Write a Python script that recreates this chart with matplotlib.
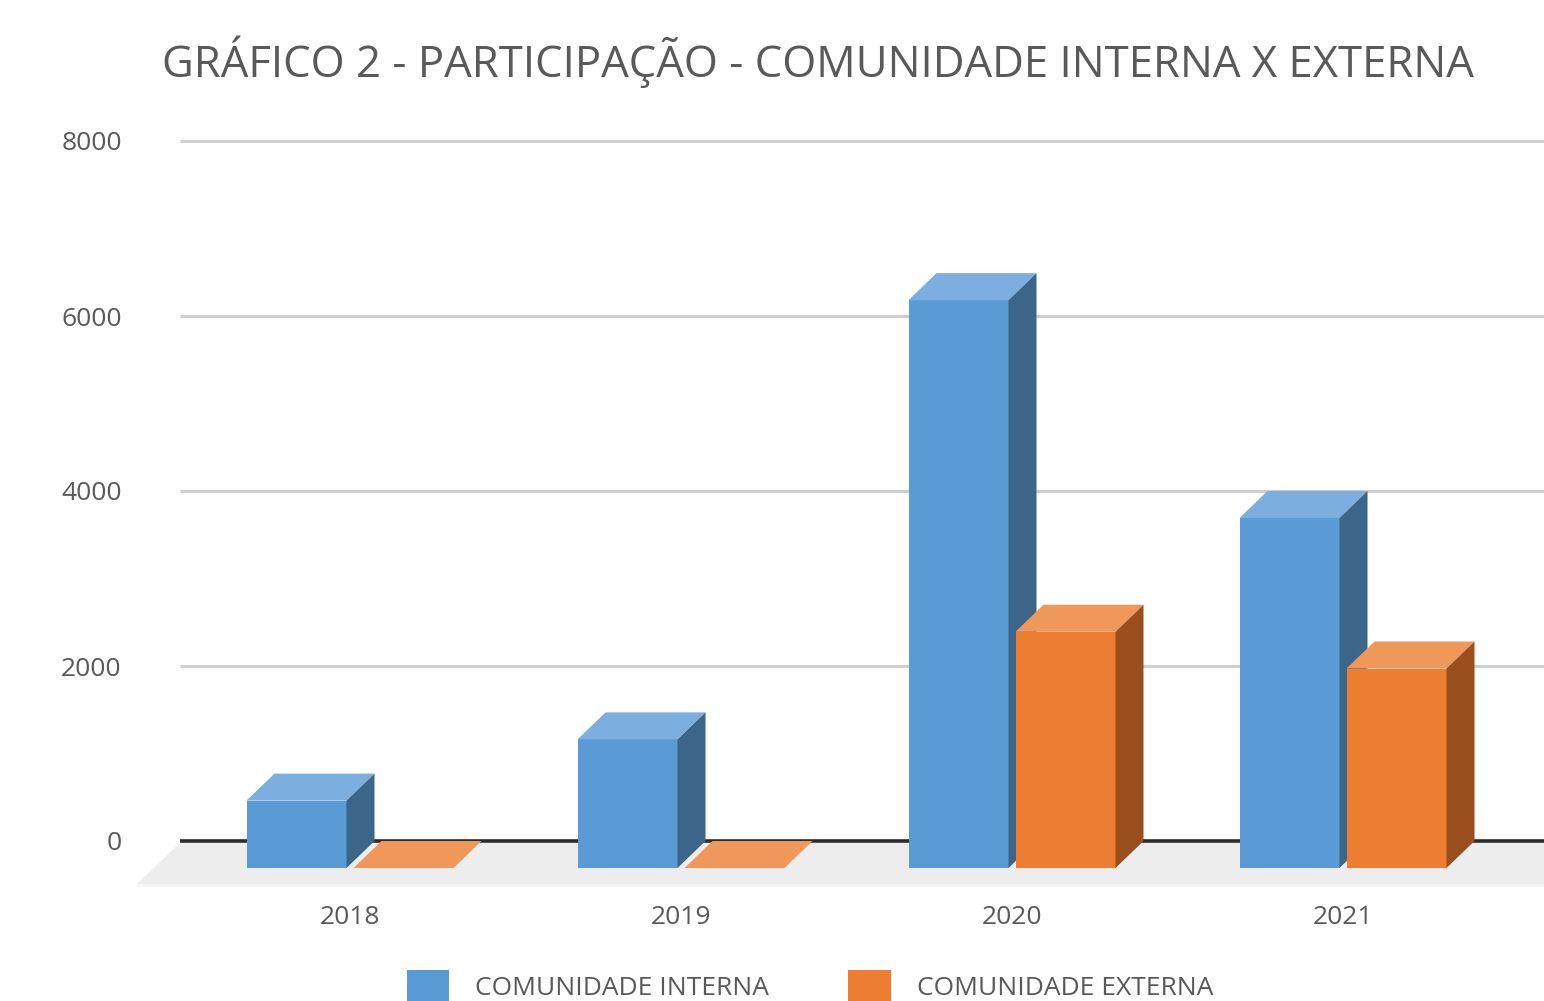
import numpy as np
import matplotlib
matplotlib.use("Agg")
import matplotlib.pyplot as plt
from matplotlib.patches import Polygon, Patch

plt.rcParams['font.family'] = ['Open Sans', 'DejaVu Sans']

years = ['2018', '2019', '2020', '2021']
interna = [770, 1470, 6490, 4000]
externa = [0, 0, 2700, 2280]
series_names = ['COMUNIDADE INTERNA', 'COMUNIDADE EXTERNA']
yticks = [0, 2000, 4000, 6000, 8000]

# cores (frente, topo, lateral)
cores = {
    'interna': ('#5b9bd5', '#7daee0', '#3b6589'),
    'externa': ('#ed7d31', '#f0975a', '#9a4f1f'),
}
texto = '#595959'

W, H = 1544, 1001
fig = plt.figure(figsize=(W / 100, H / 100), dpi=100)

# eixo: 0 -> px 841, 8000 -> px 141 (0.0875 px por unidade)
ppu = 0.0875
y_lo, y_hi = -700, 8200
px_bot = 841 + (-y_lo) * ppu
px_top = 841 - y_hi * ppu
ax_l, ax_r = 180, 1544
ax = fig.add_axes([ax_l / W, 1 - px_bot / H, (ax_r - ax_l) / W, (px_bot - px_top) / H])

# x: categoria i no pixel 350 + 331 * i
cat_px = 331
x_lo = (ax_l - 350) / cat_px
x_hi = (ax_r - 350) / cat_px
ax.set_xlim(x_lo, x_hi)
ax.set_ylim(y_lo, y_hi)

dx = 28 / cat_px          # profundidade em x
dy = 27 / ppu             # profundidade em y
w = 100 / cat_px          # largura da barra
gap = 7 / cat_px

# piso
fdx = 43 / cat_px
fdy = 43 / ppu
floor = Polygon([(x_lo, -2 / ppu), (x_hi + 1, -2 / ppu), (x_hi + 1 - fdx, -fdy),
                 (x_lo - fdx, -fdy)], closed=True, facecolor='#ededed',
                edgecolor='none', clip_on=False, zorder=1)
ax.add_patch(floor)
ax.add_patch(Polygon([(x_lo - fdx, -fdy), (x_hi + 1, -fdy), (x_hi + 1, -fdy - 3 / ppu),
                      (x_lo - fdx, -fdy - 3 / ppu)], closed=True, facecolor='#f6f6f6',
                     edgecolor='none', clip_on=False, zorder=1))

# linhas de grade na parede do fundo
for t in yticks[1:]:
    ax.plot([x_lo, x_hi], [t, t], color='#d0d0d0', lw=2.2, zorder=0, solid_capstyle='butt')
ax.plot([x_lo, x_hi], [0, 0], color='#2b2b2b', lw=2.6, zorder=2, solid_capstyle='butt')


def bar3d(x0, v, serie):
    frente, topo, lado = cores[serie]
    yb = -dy
    yt = v - dy
    z = 3
    ax.add_patch(Polygon([(x0, yb), (x0 + w, yb), (x0 + w, yt), (x0, yt)],
                         closed=True, facecolor=frente, edgecolor='none', zorder=z))
    ax.add_patch(Polygon([(x0, yt), (x0 + w, yt), (x0 + w + dx, v), (x0 + dx, v)],
                         closed=True, facecolor=topo, edgecolor='none', zorder=z))
    ax.add_patch(Polygon([(x0 + w, yb), (x0 + w + dx, 0), (x0 + w + dx, v), (x0 + w, yt)],
                         closed=True, facecolor=lado, edgecolor='none', zorder=z))


for i in range(len(years)):
    bar3d(i - gap / 2 - w, interna[i], 'interna')
    bar3d(i + gap / 2, externa[i], 'externa')

ax.set_yticks(yticks)
ax.set_yticklabels([str(t) for t in yticks])
ax.set_xticks(range(len(years)))
ax.set_xticklabels(years)
ax.tick_params(axis='y', length=0, pad=42, labelsize=19, labelcolor=texto)
ax.tick_params(axis='x', length=0, pad=2, labelsize=19, labelcolor=texto)
for spine in ax.spines.values():
    spine.set_visible(False)
ax.set_facecolor('none')

fig.text(818 / W, 1 - 62 / H, 'GRÁFICO 2 - PARTICIPAÇÃO - COMUNIDADE INTERNA X EXTERNA',
         ha='center', va='center', fontsize=31.5, color=texto)

handles = [Patch(facecolor=cores['interna'][0]), Patch(facecolor=cores['externa'][0])]
fig.legend(handles, series_names, loc='upper center', bbox_to_anchor=(810 / W, 1 - 946 / H),
           ncol=2, frameon=False, fontsize=19, labelcolor=texto, handlelength=1.6,
           handleheight=1.6, handletextpad=1.0, columnspacing=3.0)

fig.savefig('out.png', dpi=100)
